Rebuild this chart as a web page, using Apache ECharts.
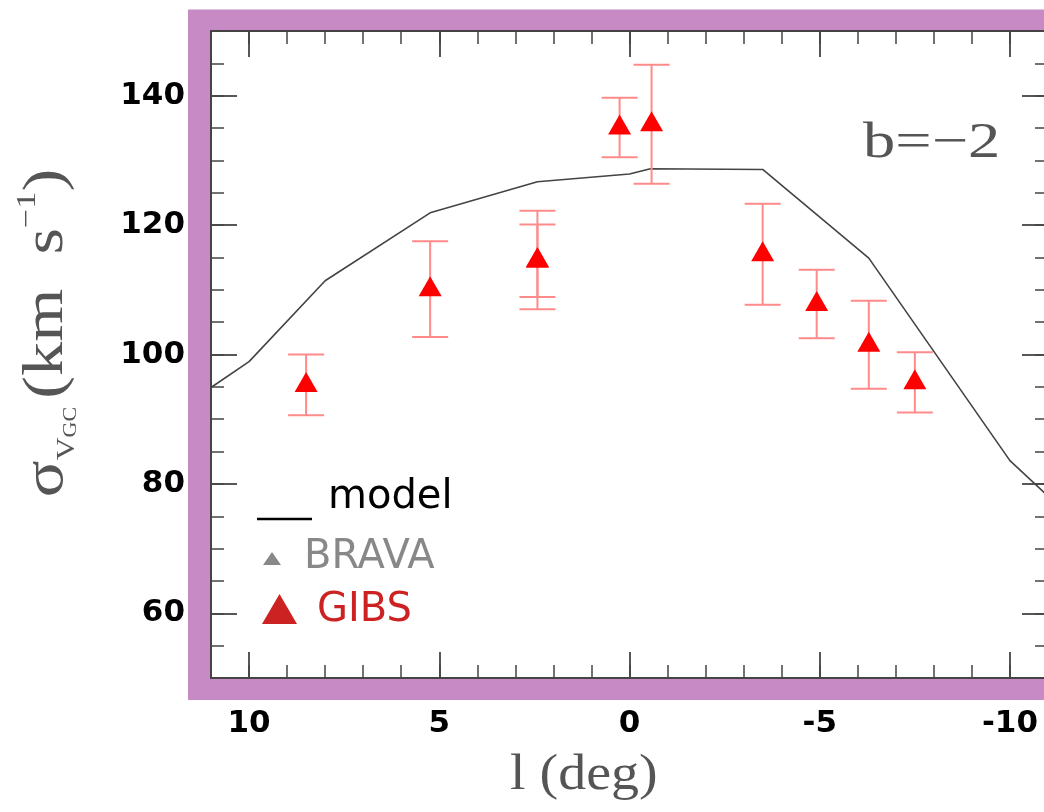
<!DOCTYPE html>
<html lang="en">
<head>
<meta charset="UTF-8">
<title>sigma vs l</title>
<script src="https://cdn.jsdelivr.net/npm/echarts@6/dist/echarts.min.js"></script>
<style>html,body{margin:0;background:#fff;}</style>
</head>
<body>
<div id="main" style="width:1044px;height:812px;"></div>
<script>
// model curve
var modelL = [11, 10, 8, 5.24, 2.42, 0, -0.55, -3.5, -6.29, -10, -11];
var modelSigma = [94.9, 98.9, 111.4, 121.9, 126.7, 127.9, 128.7, 128.6, 114.9, 83.6, 78.1];

// GIBS fields (two overlapping fields near l=2.4)
var gibsL = [8.5, 5.24, 2.42, 2.42, 0.26, -0.58, -3.5, -4.92, -6.29, -7.5];
var gibsSigma = [95.3, 110.1, 114.6, 114.5, 135.1, 135.6, 115.5, 107.8, 101.5, 95.7];
var gibsErr = [4.7, 7.4, 7.6, 5.6, 4.6, 9.2, 7.8, 5.3, 6.8, 4.65];

var xMajor = [10, 5, 0, -5, -10];
var yMajor = [60, 80, 100, 120, 140];

var myChart = echarts.init(document.getElementById('main'));

var box = {left: 211, top: 31, right: -4, bottom: 134, outerBoundsMode: 'none'};
var axisColor = '#444';
var labelFont = {color: '#000', fontSize: 31, fontWeight: 'bold', fontFamily: 'DejaVu Sans'};

function minorX(pos) {
    return {
        type: 'value', gridIndex: 0, position: pos, inverse: true,
        min: -11, max: 11, interval: 1,
        axisLine: {show: false, onZero: false},
        axisTick: {inside: true, length: 13, lineStyle: {color: axisColor, width: 1.5}},
        axisLabel: {show: false},
        splitLine: {show: false}
    };
}
function minorY(pos) {
    return {
        type: 'value', gridIndex: 0, position: pos,
        min: 50, max: 150, interval: 5,
        axisLine: {show: false, onZero: false},
        axisTick: {inside: true, length: 13, lineStyle: {color: axisColor, width: 1.5}},
        axisLabel: {show: false},
        splitLine: {show: false}
    };
}
function majorX(pos, labels) {
    return {
        type: 'value', gridIndex: 1, position: pos, inverse: true,
        min: -11, max: 11,
        axisLine: {show: true, onZero: false, lineStyle: {color: axisColor, width: 2}},
        axisTick: {inside: true, length: 26, customValues: xMajor, lineStyle: {color: axisColor, width: 1.8}},
        axisLabel: Object.assign({show: labels, margin: 30, customValues: xMajor}, labelFont),
        splitLine: {show: false}
    };
}
function majorY(pos, labels) {
    return {
        type: 'value', gridIndex: 1, position: pos,
        min: 50, max: 150,
        axisLine: {show: true, onZero: false, lineStyle: {color: axisColor, width: 2}},
        axisTick: {inside: true, length: 26, customValues: yMajor, lineStyle: {color: axisColor, width: 1.8}},
        axisLabel: Object.assign({show: labels, margin: 26, customValues: yMajor}, labelFont),
        splitLine: {show: false}
    };
}

var errData = gibsL.map(function (l, i) {
    return [l, gibsSigma[i] - gibsErr[i], gibsSigma[i] + gibsErr[i]];
});
var ptData = gibsL.map(function (l, i) { return [l, gibsSigma[i]]; });
var modelData = modelL.map(function (l, i) { return [l, modelSigma[i]]; });

var option = {
    backgroundColor: '#fff',
    animation: false,
    grid: [
        Object.assign({show: true, backgroundColor: '#fff', borderWidth: 0}, box),
        Object.assign({show: false}, box)
    ],
    xAxis: [minorX('bottom'), minorX('top'), majorX('bottom', true), majorX('top', false)],
    yAxis: [minorY('left'), minorY('right'), majorY('left', true), majorY('right', false)],
    series: [
        {
            type: 'line', name: 'model', xAxisIndex: 2, yAxisIndex: 2,
            data: modelData, symbol: 'none', z: 2,
            lineStyle: {color: '#444', width: 1.6}
        },
        {
            type: 'custom', name: 'GIBS err', xAxisIndex: 2, yAxisIndex: 2, z: 3,
            data: errData,
            encode: {x: 0, y: [1, 2]},
            renderItem: function (params, api) {
                var l = api.value(0);
                var hi = api.coord([l, api.value(2)]);
                var lo = api.coord([l, api.value(1)]);
                var cap = 18;
                var st = {stroke: '#ff8a8a', lineWidth: 2};
                return {
                    type: 'group',
                    children: [
                        {type: 'line', shape: {x1: hi[0], y1: hi[1], x2: lo[0], y2: lo[1]}, style: st},
                        {type: 'line', shape: {x1: hi[0] - cap, y1: hi[1], x2: hi[0] + cap, y2: hi[1]}, style: st},
                        {type: 'line', shape: {x1: lo[0] - cap, y1: lo[1], x2: lo[0] + cap, y2: lo[1]}, style: st}
                    ]
                };
            }
        },
        {
            type: 'scatter', name: 'GIBS', xAxisIndex: 2, yAxisIndex: 2, z: 4,
            data: ptData, symbol: 'triangle', symbolSize: [23, 20], symbolOffset: [0, -3],
            itemStyle: {color: '#ff0000', opacity: 1}
        }
    ],
    graphic: [
        {type: 'rect', z: -1, silent: true,
         shape: {x: 199, y: 20.5, width: 900, height: 668.5},
         style: {fill: 'none', stroke: '#c78ac4', lineWidth: 22}},
        // legend
        {type: 'line', z: 10, shape: {x1: 257, y1: 519, x2: 312, y2: 519}, style: {stroke: '#000', lineWidth: 2.5}},
        {type: 'text', z: 10, x: 328, y: 498,
         style: {text: 'model', font: '40px "DejaVu Sans"', fill: '#000', verticalAlign: 'middle'}},
        {type: 'polygon', z: 10, shape: {points: [[263, 565], [281, 565], [272, 552]]}, style: {fill: '#888'}},
        {type: 'text', z: 10, x: 304, y: 558,
         style: {text: 'BRAVA', font: '40px "DejaVu Sans"', fill: '#888', verticalAlign: 'middle'}},
        {type: 'polygon', z: 10, shape: {points: [[262, 624], [297, 624], [279.5, 594]]}, style: {fill: '#cc2222'}},
        {type: 'text', z: 10, x: 317, y: 611,
         style: {text: 'GIBS', font: '40px "DejaVu Sans"', fill: '#cc2222', verticalAlign: 'middle'}},
        // panel label
        {type: 'text', z: 10, x: 863, y: 144, scaleX: 1.29,
         style: {text: 'b=\u22122', font: '50px "Liberation Serif"', fill: '#555', verticalAlign: 'middle'}},
        // axis titles
        {type: 'text', z: 10, x: 510, y: 776, scaleX: 1.12,
         style: {text: 'l (deg)', font: '50px "Liberation Serif"', fill: '#555', verticalAlign: 'middle'}},
        {type: 'text', z: 10, x: 47, y: 333, rotation: Math.PI / 2, scaleX: 1.22,
         style: {
             text: '{a|\u03c3}{v|V}{g|GC}  {a|(km  s}{p|\u22121}{a|)}',
             align: 'center', verticalAlign: 'middle', fill: '#555',
             rich: {
                 a: {fontSize: 56, fontFamily: 'Liberation Serif', color: '#555', lineHeight: 66},
                 v: {fontSize: 26, fontFamily: 'Liberation Serif', color: '#555', lineHeight: 30, verticalAlign: 'bottom'},
                 g: {fontSize: 18, fontFamily: 'Liberation Serif', color: '#555', lineHeight: 24, verticalAlign: 'bottom'},
                 p: {fontSize: 28, fontFamily: 'Liberation Serif', color: '#555', lineHeight: 34, verticalAlign: 'top'}
             }
         }}
    ]
};
myChart.setOption(option);
</script>
</body>
</html>
